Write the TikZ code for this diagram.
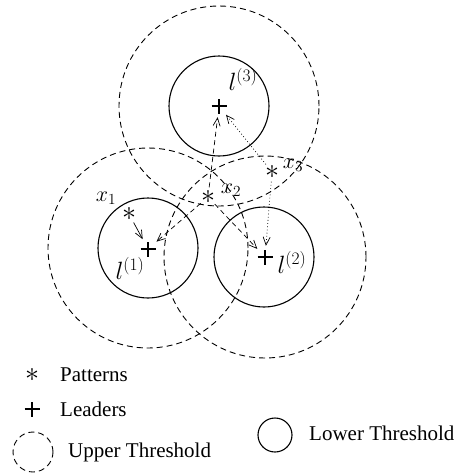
\RequirePackage{fix-cm}
\documentclass[tikz,border=0pt]{standalone}
\usepackage{fontspec}
\setmainfont{Liberation Serif}
\usetikzlibrary{arrows.meta}
\begin{document}
\begin{tikzpicture}[x=1pt,y=-1pt,
  lowerc/.style={draw,line width=1.1pt},
  upperc/.style={draw,line width=0.9pt,dash pattern=on 6pt off 4pt},
  leader/.style={circle,minimum size=22pt,inner sep=0pt,
    path picture={
      \draw[line width=2.3pt] ([xshift=-7.5pt]path picture bounding box.center) -- ([xshift=7.5pt]path picture bounding box.center);
      \draw[line width=2.3pt] ([yshift=-7.5pt]path picture bounding box.center) -- ([yshift=7.5pt]path picture bounding box.center);}},
  pattern/.style={circle,inner sep=0pt,minimum size=12pt,font=\fontsize{28}{30}\selectfont},
  lbl/.style={inner sep=0pt,font=\fontsize{21}{25}\selectfont},
  mlbl/.style={inner sep=0pt,font=\fontsize{22}{26}\selectfont},
  llbl/.style={inner sep=0pt,font=\fontsize{25}{29}\selectfont},
  arr/.style={line width=0.7pt,-{Straight Barb[length=8pt,width=7pt,line width=0.7pt]}},
  dsh/.style={arr,dash pattern=on 5pt off 3.5pt},
  dot/.style={arr,dash pattern=on 0.8pt off 2.4pt}]
\useasboundingbox (0,0) rectangle (457,475);
% threshold circles
\node[lowerc,circle,minimum size=100pt,inner sep=0pt] (c3) at (219,106) {};
\node[lowerc,circle,minimum size=100pt,inner sep=0pt] (c1) at (148,248) {};
\node[lowerc,circle,minimum size=100pt,inner sep=0pt] (c2) at (264,257) {};
\node[upperc,circle,minimum size=200pt,inner sep=0pt] (u3) at (219,106) {};
\node[upperc,circle,minimum size=200pt,inner sep=0pt] (u1) at (148,248) {};
\node[upperc,circle,minimum size=202pt,inner sep=0pt] (u2) at (265,257) {};
% leaders
\node[leader] (l3) at (219,106) {};
\node[leader] (l1) at (148,249) {};
\node[leader] (l2) at (265,257) {};
% patterns
\node[pattern] (x1) at (129,214) {$\ast$};
\node[pattern] (x2) at (208,197) {$\ast$};
\node[pattern] (x3) at (272,172) {$\ast$};
% labels
\node[mlbl] (tx1) at (106,198) {$x_1$};
\node[mlbl] (tx2) at (231,190) {$x_2$};
\node[mlbl] (tx3) at (293,165) {$x_3$};
\node[llbl] (tl3) at (243,79) {$l^{(3)}$};
\node[llbl] (tl1) at (130,268) {$l^{(1)}$};
\node[llbl] (tl2) at (292,262) {$l^{(2)}$};
% arrows
\draw[arr] (x1) -- (l1);
\draw[dsh] (x2) -- (l1);
\draw[dsh] (x2) -- (l3);
\draw[dsh] (x2) -- (l2);
\draw[dot] (x3) -- (l3);
\draw[dot] (x3) -- (l2);
% legend
\node[pattern] (lgp) at (32,375) {$\ast$};
\node[lbl,anchor=west] (lgpt) at (60,375) {Patterns};
\node[leader] (lgl) at (32,409) {};
\node[lbl,anchor=west] (lglt) at (60,409) {Leaders};
\node[upperc,circle,minimum size=40pt,inner sep=0pt] (lgu) at (33,452) {};
\node[lbl,anchor=west] (lgut) at (68,452) {Upper Threshold};
\node[lowerc,circle,minimum size=34pt,inner sep=0pt] (lgw) at (275,435) {};
\node[lbl,anchor=west] (lgwt) at (309,433) {Lower Threshold};
\end{tikzpicture}
\end{document}
